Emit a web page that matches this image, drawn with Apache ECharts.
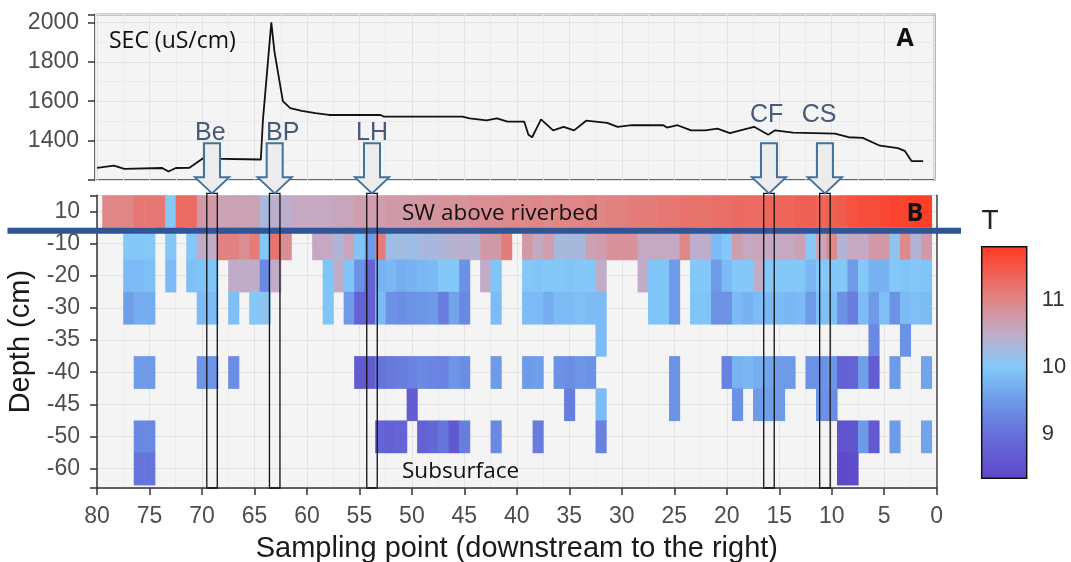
<!DOCTYPE html>
<html>
<head>
<meta charset="utf-8">
<script src="https://cdn.jsdelivr.net/npm/echarts@6/dist/echarts.min.js"></script>
<style>
  html, body { margin: 0; padding: 0; background: #fff; }
  #main { width: 1071px; height: 562px; }
</style>
</head>
<body>
<div id="main"></div>
<script>
// ---- panel A : SEC along the stream (x = sampling point) ----
var secX = [80.0, 78.4, 77.4, 73.8, 73.2, 72.5, 71.2, 69.9, 69.3, 64.4,
            64.2, 63.4, 63.1, 62.3, 61.6, 60.5, 59.2, 57.9, 53.0, 52.7,
            45.2, 44.5, 42.9, 41.9, 40.9, 39.3, 38.9, 38.55, 37.7, 36.55,
            35.55, 34.55, 33.4, 31.4, 30.4, 29.05, 26.05, 25.7, 24.7, 23.4,
            22.05, 20.9, 19.7, 18.7, 17.4, 16.05, 15.4, 13.7, 9.7, 8.4,
            7.05, 5.4, 3.7, 3.05, 2.4, 1.3];
var secVal = [1261, 1273, 1256, 1261, 1243, 1261, 1262, 1310, 1308, 1304,
              1504, 2000, 1852, 1600, 1565, 1551, 1539, 1530, 1530, 1522,
              1522, 1513, 1503, 1513, 1496, 1496, 1430, 1417, 1508, 1452,
              1470, 1452, 1501, 1490, 1470, 1478, 1478, 1466, 1478, 1452,
              1452, 1461, 1438, 1452, 1470, 1430, 1452, 1440, 1435, 1417,
              1414, 1374, 1362, 1348, 1296, 1296];

// sites marked with arrows / boxes
var siteNames = ['Be', 'BP', 'LH', 'CF', 'CS'];
var siteX = [69.04, 63.07, 53.8, 15.98, 10.65];
var siteLabelX = [69.2, 62.3, 53.8, 16.2, 11.2];
var siteLabelLift = [0, 0, 0, 18, 18];

// ---- panel B : temperature by depth ----
var depthLabels = ['-60', '-50', '-45', '-40', '-35', '-30', '-20', '-10', '10'];
var firstPoint = 79;   // dense rows below list points 79, 78, ... 1

var t10 = [11.0, 11.0, 11.0, 11.15, 11.15, 11.15, 10.0, 11.3, 11.3, 10.75,
           10.75, 10.65, 10.65, 10.65, 10.65, 10.3, 10.45, 10.45, 10.55, 10.55,
           10.55, 10.55, 10.6, 10.6, 10.7, 10.7, 10.7, 10.75, 10.75, 10.75,
           10.8, 10.8, 10.85, 10.85, 10.85, 10.9, 10.9, 10.9, 10.95, 10.95,
           10.95, 11.0, 10.95, 11.0, 11.0, 11.0, 11.05, 11.0, 11.05, 11.05,
           11.1, 11.1, 11.1, 11.15, 11.15, 11.2, 11.2, 11.2, 11.25, 11.25,
           11.3, 11.3, 11.3, 11.35, 11.35, 11.35, 11.4, 11.4, 11.35, 11.4,
           11.45, 11.55, 11.6, 11.6, 11.65, 11.7, 11.7, 11.75, 11.75];
var tM10 = [null, null, 10.0, 10.0, 10.0, null, 10.0, null, 10.0, 10.5,
            10.5, 11.05, 11.05, 10.9, 11.1, 10.0, 11.2, 10.9, null, null,
            10.55, 10.55, 10.35, 10.6, 9.95, 9.5, 11.1, 10.2, 10.25, 10.2,
            10.3, 10.3, 10.35, 10.4, 10.45, 10.4, 10.75, 10.75, 11.1, null,
            10.75, 10.55, 10.7, 10.3, 10.3, 10.3, 10.65, 10.7, 10.85, 10.85,
            10.85, 10.55, 10.55, 10.55, 10.55, 11.0, 10.45, 10.45, 9.85, 10.0,
            10.7, 10.55, 10.6, 10.55, 10.55, 10.55, 10.65, 10.05, 10.6, 10.95,
            10.38, 10.55, 10.55, 10.75, 10.75, 10.1, 10.95, 10.38, 10.75];
var tM20 = [null, null, 9.85, 9.85, 9.9, null, 9.85, null, 9.9, 9.95,
            9.95, null, 10.5, 10.5, 10.5, 9.3, 10.5, null, null, null,
            null, 9.95, 10.5, 9.95, 9.4, 8.8, 9.75, 9.8, 9.7, 9.75,
            9.8, 9.85, 10.0, 10.0, 9.4, null, 10.5, 9.95, null, null,
            10.0, 9.95, 10.0, 10.0, 9.95, 10.0, 10.0, 10.5, null, null,
            null, 10.5, 9.95, 9.95, 9.5, null, 10.0, 10.0, 9.5, 9.85,
            10.0, 10.0, 10.5, 10.0, 10.0, 10.0, 10.0, 9.8, 10.0, 10.0,
            10.0, 9.5, 10.0, 9.75, 9.75, 10.0, 9.95, 10.0, 9.95];
var tM30 = [null, null, 9.55, 9.7, 9.7, null, null, null, null, 9.85,
            9.85, null, 9.9, null, 10.0, 10.1, null, null, null, null,
            null, 9.95, null, 9.5, 8.75, 8.75, 9.85, 9.4, 9.35, 9.4,
            9.45, 9.5, 9.15, 9.6, 9.3, null, null, 9.85, null, null,
            9.85, 9.85, 9.7, 9.85, 9.85, 9.9, 9.85, 9.85, null, null,
            null, null, 9.95, 9.95, 9.5, null, 9.95, 9.95, 9.4, 9.4,
            9.85, 9.75, 9.85, 9.8, 9.85, 9.8, 9.85, 9.5, 9.9, 9.9,
            9.4, 9.15, 9.85, 9.5, 9.9, 9.4, 9.85, 9.9, 9.85];

var ptsM35 = [32, 6, 3];
var tM35 = [9.85, 9.3, 9.4];
var ptsM40 = [76, 75, 70, 69, 67, 55, 54, 53, 52, 51, 50, 49, 48, 47, 46, 45, 42, 39, 38, 36,
              35, 34, 33, 25, 20, 19, 18, 17, 16, 15, 14, 12, 11, 10, 9, 8, 7, 6, 4, 1];
var tM40 = [9.5, 9.5, 9.45, 9.45, 9.35, 8.65, 8.65, 9.05, 9.1, 9.15, 9.2, 9.3, 9.25, 9.2, 9.45, 9.35, 9.5, 9.5, 9.55, 9.4,
            9.35, 9.45, 9.4, 9.4, 9.2, 9.75, 9.8, 9.7, 9.6, 9.5, 9.5, 9.4, 9.4, 9.45, 8.75, 8.8, 9.55, 8.7, 9.5, 9.6];
var ptsM45 = [50, 35, 32, 25, 19, 17, 16, 15, 11, 10];
var tM45 = [8.7, 9.15, 9.85, 9.4, 9.4, 9.5, 9.55, 9.5, 9.4, 9.35];
var ptsM50 = [76, 75, 53, 52, 51, 49, 48, 47, 46, 45, 42, 38, 32, 9, 8, 7, 6, 4, 1];
var tM50 = [9.3, 9.3, 8.8, 8.75, 8.8, 8.75, 8.85, 9.05, 8.6, 9.15, 9.3, 9.15, 9.2, 8.5, 8.55, 9.5, 8.65, 9.5, 9.6];
var ptsM60 = [76, 75, 9, 8];
var tM60 = [9.05, 9.05, 8.35, 8.4];

// colour scale (T)
var tMin = 8.33, tMax = 11.8;
var tStops = [8.33, 9, 9.5, 10, 10.5, 11, 11.8];
var tStopColors = ['#5E48C8', '#6670DA', '#6E9AE8', '#82CAFA', '#C2ACC8', '#E08686', '#FF3A22'];

function hexRgb(h) { return [parseInt(h.substr(1, 2), 16), parseInt(h.substr(3, 2), 16), parseInt(h.substr(5, 2), 16)]; }
function ramp(n) {
  var out = [];
  for (var k = 0; k < n; k++) {
    var v = tMin + (tMax - tMin) * k / (n - 1);
    var j = 0;
    while (j < tStops.length - 2 && v > tStops[j + 1]) j++;
    var f = (v - tStops[j]) / (tStops[j + 1] - tStops[j]);
    f = Math.max(0, Math.min(1, f));
    var a = hexRgb(tStopColors[j]), b = hexRgb(tStopColors[j + 1]);
    out.push('rgb(' + Math.round(a[0] + (b[0] - a[0]) * f) + ',' + Math.round(a[1] + (b[1] - a[1]) * f) + ',' + Math.round(a[2] + (b[2] - a[2]) * f) + ')');
  }
  return out;
}

var tiles = [];
function addDense(row, temps) {
  for (var i = 0; i < temps.length; i++) if (temps[i] !== null) tiles.push([firstPoint - i, row, temps[i]]);
}
function addSparse(row, pts, temps) {
  for (var i = 0; i < pts.length; i++) tiles.push([pts[i], row, temps[i]]);
}
addDense(8, t10); addDense(7, tM10); addDense(6, tM20); addDense(5, tM30);
addSparse(4, ptsM35, tM35); addSparse(3, ptsM40, tM40); addSparse(2, ptsM45, tM45);
addSparse(1, ptsM50, tM50); addSparse(0, ptsM60, tM60);

var secData = secX.map(function (x, i) { return [x, secVal[i]]; });

var tickFont = { fontFamily: 'Liberation Sans', fontSize: 23, color: '#4D4D4D' };
var gridLine = { lineStyle: { color: '#E2E2E2', width: 1 } };
var minorLine = { lineStyle: { color: '#EBEBEB', width: 1 } };

var chart = echarts.init(document.getElementById('main'));
chart.setOption({
  animation: false,
  grid: [
    { left: 95, top: 14.5, width: 839.6, height: 165.5, outerBoundsMode: 'none', show: true, backgroundColor: '#F4F4F4', borderColor: '#333', borderWidth: 1.5 },
    { left: 97, top: 195.3, width: 839.7, height: 292.7, outerBoundsMode: 'none', show: true, backgroundColor: '#F4F4F4', borderWidth: 0 },
    { left: 981.7, top: 246.7, width: 45, height: 231.6, outerBoundsMode: 'none', show: true, backgroundColor: 'transparent', borderColor: '#111', borderWidth: 1.5, z: 10 }
  ],
  xAxis: [
    { gridIndex: 0, type: 'value', inverse: true, min: 0.2, max: 80.2, splitNumber: 16,
      axisLine: { show: false }, axisTick: { show: false }, axisLabel: { show: false },
      splitLine: gridLine, minorTick: { show: false, splitNumber: 2 }, minorSplitLine: Object.assign({ show: true }, minorLine) },
    { gridIndex: 1, type: 'value', inverse: true, min: 0, max: 80, interval: 5,
      axisLine: { show: true, onZero: false, lineStyle: { color: '#333', width: 1.5 } },
      axisTick: { show: true, length: 7, lineStyle: { color: '#333', width: 1.5 } },
      axisLabel: Object.assign({ margin: 17, hideOverlap: false }, tickFont),
      splitLine: gridLine, minorTick: { show: false, splitNumber: 2 }, minorSplitLine: Object.assign({ show: true }, minorLine),
      name: 'Sampling point (downstream to the right)', nameLocation: 'middle', nameGap: 46,
      nameTextStyle: { fontFamily: 'Liberation Sans', fontSize: 29, color: '#1A1A1A' } },
    { gridIndex: 2, type: 'value', show: false, min: 0, max: 1 }
  ],
  yAxis: [
    { gridIndex: 0, type: 'value', min: 1200, max: 2040, interval: 200,
      axisLine: { show: false },
      axisTick: { show: true, length: 7, lineStyle: { color: '#333', width: 1.5 } },
      axisLabel: Object.assign({ margin: 16, formatter: function (v) { return (v >= 1400 && v <= 2000 && v % 200 === 0) ? String(v) : ''; } }, tickFont),
      splitLine: gridLine, minorTick: { show: false, splitNumber: 2 }, minorSplitLine: Object.assign({ show: true }, minorLine) },
    { gridIndex: 1, type: 'value', min: -0.6, max: 8.5, splitNumber: 9,
      axisLine: { show: true, onZero: false, lineStyle: { color: '#333', width: 1.5 } },
      axisTick: { show: true, length: 7, lineStyle: { color: '#333', width: 1.5 } },
      axisLabel: Object.assign({ margin: 17, formatter: function (v) { return Number.isInteger(v) && depthLabels[v] !== undefined ? depthLabels[v] : ''; } }, tickFont),
      splitLine: gridLine,
      name: 'Depth (cm)', nameLocation: 'middle', nameGap: 49, nameRotate: 90,
      nameTextStyle: { fontFamily: 'Liberation Sans', fontSize: 29, color: '#1A1A1A' } },
    { gridIndex: 1, type: 'value', position: 'right', min: -0.6, max: 8.5,
      axisLine: { show: true, lineStyle: { color: '#444', width: 1.5 } },
      axisTick: { show: false }, axisLabel: { show: false }, splitLine: { show: false } },
    { gridIndex: 2, type: 'value', position: 'right', min: tMin, max: tMax, splitNumber: 4,
      axisLine: { show: false }, axisTick: { show: false }, splitLine: { show: false },
      axisLabel: { margin: 15, fontFamily: 'Liberation Sans', fontSize: 22, color: '#333',
        formatter: function (v) { return Number.isInteger(v) ? String(v) : ''; } } }
  ],
  visualMap: {
    type: 'continuous', min: tMin, max: tMax, dimension: 2, seriesIndex: 1,
    left: 981.7, top: 246.7, itemWidth: 45, itemHeight: 231.6, padding: 0,
    calculable: false, hoverLink: false, text: null, showLabel: false,
    inRange: { color: ramp(60) }
  },
  series: [
    { type: 'line', xAxisIndex: 0, yAxisIndex: 0, data: secData, showSymbol: false,
      lineStyle: { color: '#111', width: 1.8 }, z: 5 },
    { type: 'custom', xAxisIndex: 1, yAxisIndex: 1, data: tiles,
      encode: { x: 0, y: 1 },
      renderItem: function (params, api) {
        var a = api.coord([api.value(0) + 0.5, api.value(1) + 0.5]);
        var b = api.coord([api.value(0) - 0.5, api.value(1) - 0.5]);
        return {
          type: 'rect',
          shape: { x: Math.min(a[0], b[0]), y: Math.min(a[1], b[1]),
                   width: Math.abs(b[0] - a[0]) + 0.6, height: Math.abs(b[1] - a[1]) + 0.6 },
          style: { fill: api.visual('color') }
        };
      } }
  ]
});

// annotations: blue riverbed line, site boxes, arrows, labels
var g = [];
var lineY = chart.convertToPixel({ gridIndex: 1 }, [0, 7.4])[1];
g.push({ type: 'line', z: 50, shape: { x1: 7.5, y1: lineY, x2: 961, y2: lineY }, style: { stroke: '#2F5597', lineWidth: 6 } });

for (var i = 0; i < siteNames.length; i++) {
  var p0 = chart.convertToPixel({ gridIndex: 1 }, [siteX[i] + 0.5, 8.56]);
  var p1 = chart.convertToPixel({ gridIndex: 1 }, [siteX[i] - 0.5, -0.6]);
  g.push({ type: 'rect', z: 60, shape: { x: p0[0], y: p0[1], width: p1[0] - p0[0], height: p1[1] - p0[1] },
           style: { fill: 'none', stroke: '#111', lineWidth: 1.3 } });
  var cx = (p0[0] + p1[0]) / 2, tip = p0[1];
  g.push({ type: 'polygon', z: 70, shape: { points: [[cx, tip], [cx - 17, tip - 16], [cx - 8, tip - 16], [cx - 8, tip - 50],
           [cx + 8, tip - 50], [cx + 8, tip - 16], [cx + 17, tip - 16]] },
           style: { fill: '#ECECEC', stroke: '#41719C', lineWidth: 2 } });
  var lp = chart.convertToPixel({ gridIndex: 1 }, [siteLabelX[i], 0])[0];
  g.push({ type: 'text', z: 70, x: lp, y: tip - 60 - siteLabelLift[i], style: { text: siteNames[i], fill: '#475A7A',
           font: '25px "Liberation Sans"', align: 'center', verticalAlign: 'middle' } });
}

g.push({ type: 'text', z: 70, x: 109, y: 41, style: { text: 'SEC (uS/cm)', fill: '#111', font: '23px "Open Sans"', verticalAlign: 'middle' } });
g.push({ type: 'text', z: 70, x: 905, y: 39, style: { text: 'A', fill: '#111', font: 'bold 25px "Open Sans"', align: 'center', verticalAlign: 'middle' } });
g.push({ type: 'text', z: 70, x: 402, y: 214, style: { text: 'SW above riverbed', fill: '#111', font: '22.5px "Open Sans"', verticalAlign: 'middle' } });
g.push({ type: 'text', z: 70, x: 915, y: 214, style: { text: 'B', fill: '#111', font: 'bold 25px "Open Sans"', align: 'center', verticalAlign: 'middle' } });
g.push({ type: 'text', z: 70, x: 402, y: 472, style: { text: 'Subsurface', fill: '#111', font: '22.5px "Open Sans"', verticalAlign: 'middle' } });
g.push({ type: 'text', z: 70, x: 990, y: 221, style: { text: 'T', fill: '#222', font: '28px "Liberation Sans"', align: 'center', verticalAlign: 'middle' } });

chart.setOption({ graphic: g });
</script>
</body>
</html>
